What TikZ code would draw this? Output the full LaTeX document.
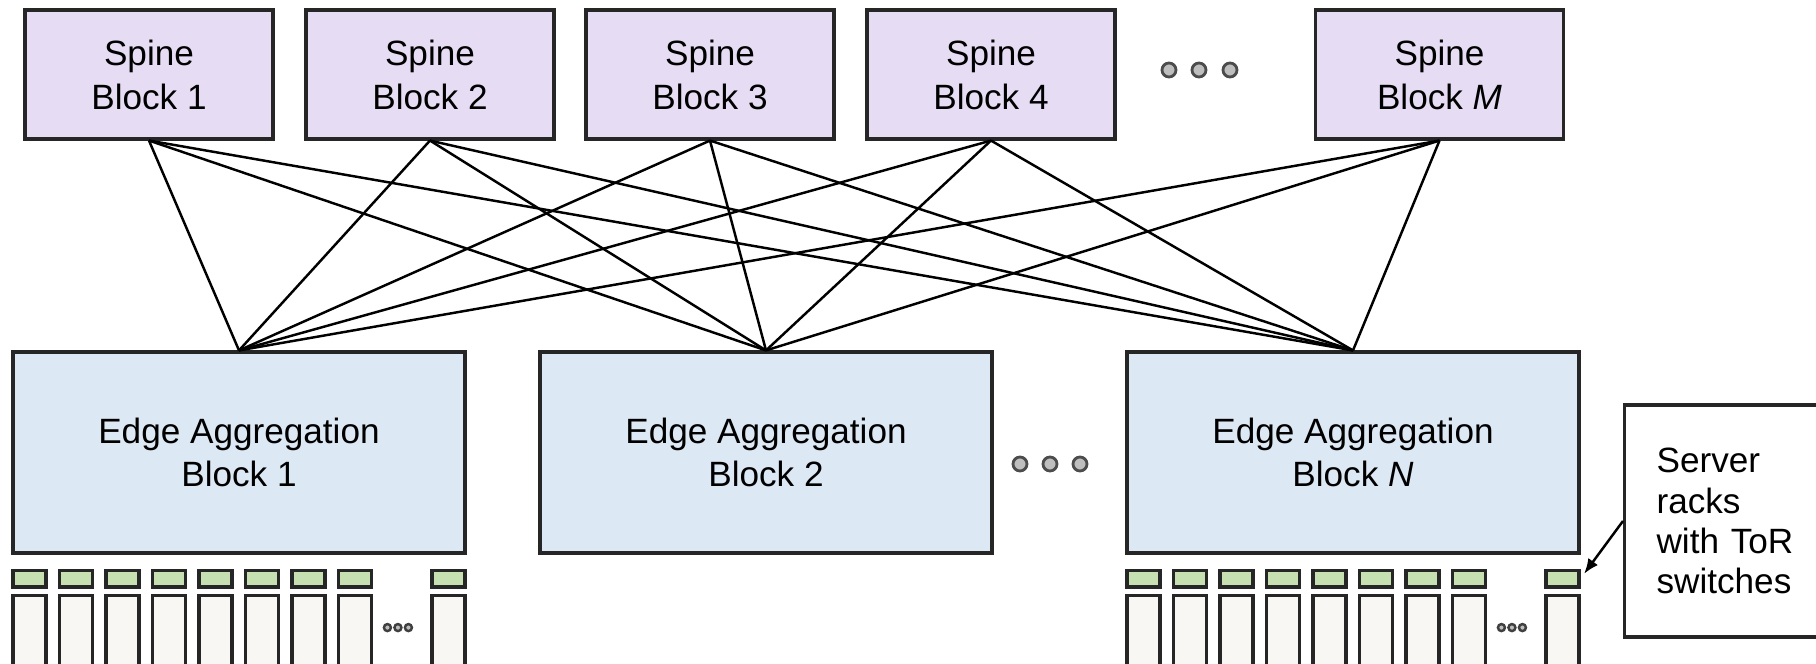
\documentclass[tikz,border=0pt]{standalone}
\usepackage{fontspec}
\setmainfont{Liberation Sans}
\usetikzlibrary{calc,arrows.meta}
\definecolor{spinefill}{HTML}{E6DCF3}
\definecolor{edgefill}{HTML}{DDE8F5}
\definecolor{torfill}{HTML}{C6E0B2}
\definecolor{rackfill}{HTML}{F8F7F4}
\definecolor{dotfill}{HTML}{BEBEBE}
\tikzset{
    spine/.style={draw=black!85,fill=spinefill,line width=0.9pt,minimum width=24.8mm,minimum height=12.9mm,align=center,font=\fontsize{10}{12.5}\selectfont},
    aggblock/.style={draw=black!85,fill=edgefill,line width=0.9pt,minimum width=45.2mm,minimum height=20.1mm,align=center,font=\fontsize{10}{12}\selectfont},
    tor/.style={draw=black!85,fill=torfill,line width=1pt,minimum width=3.3mm,minimum height=1.65mm,inner sep=0pt},
    rack/.style={draw=black!85,fill=rackfill,line width=1pt,minimum width=3.3mm,minimum height=8mm,inner sep=0pt},
    link/.style={black,line width=0.7pt},
    bigdot/.style={draw=black!70,fill=dotfill,line width=0.8pt},
    smalldot/.style={draw=black!75,fill=dotfill,line width=0.7pt},
    note/.style={draw=black!85,line width=0.9pt,minimum width=22mm,minimum height=23.2mm,inner xsep=3.2mm,text width=15.6mm,align=left,font=\fontsize{10}{11.4}\selectfont},
    pointer/.style={-{Latex[length=1.5mm,width=1.2mm]},line width=0.7pt,shorten >=0.6mm}
}
\begin{document}
\begin{tikzpicture}[x=0.1mm,y=-0.1mm]
\useasboundingbox (0,0) rectangle (1816,664);
% spine blocks
\node[spine] (spine1) at (149,74.5) {Spine\\Block 1};
\node[spine] (spine2) at (430,74.5) {Spine\\Block 2};
\node[spine] (spine3) at (710,74.5) {Spine\\Block 3};
\node[spine] (spine4) at (991,74.5) {Spine\\Block 4};
\node[spine] (spineM) at (1439.5,74.5) {Spine\\Block \textit{M}};
\foreach \x in {1169,1199,1230} \draw[bigdot] (\x,70) circle[radius=0.7mm];
% edge aggregation blocks
\node[aggblock] (agg1) at (239,452.5) {Edge Aggregation\\Block 1};
\node[aggblock] (agg2) at (766,452.5) {Edge Aggregation\\Block 2};
\node[aggblock] (aggN) at (1353,452.5) {Edge Aggregation\\Block \textit{N}};
\foreach \x in {1020,1050,1080} \draw[bigdot] (\x,464) circle[radius=0.7mm];
% links
\foreach \s in {1,2,3,4,M}
  \foreach \e in {1,2,N}
    \draw[link] (spine\s.south) -- (agg\e.north);
% server racks with ToR switches
\foreach \e in {1,N} {
  \foreach \i in {1,...,8} {
    \node[tor,anchor=north west] (tor\e-\i) at ($(agg\e.south west)+({(\i-1)*46.5},14)$) {};
    \node[rack,anchor=north west] (rack\e-\i) at ($(agg\e.south west)+({(\i-1)*46.5},39)$) {};
  }
  \node[tor,anchor=north east] (tor\e-last) at ($(agg\e.south east)+(0,14)$) {};
  \node[rack,anchor=north east] (rack\e-last) at ($(agg\e.south east)+(0,39)$) {};
  \foreach \d in {376,386.5,397}
    \draw[smalldot] ($(agg\e.south west)+(\d,73)$) circle[radius=0.35mm];
}
% note
\node[note,anchor=west] (note) at (1623,521) {Server\\racks\\with ToR\\switches};
\draw[pointer] (note.west) -- (torN-last.east);
\end{tikzpicture}
\end{document}
